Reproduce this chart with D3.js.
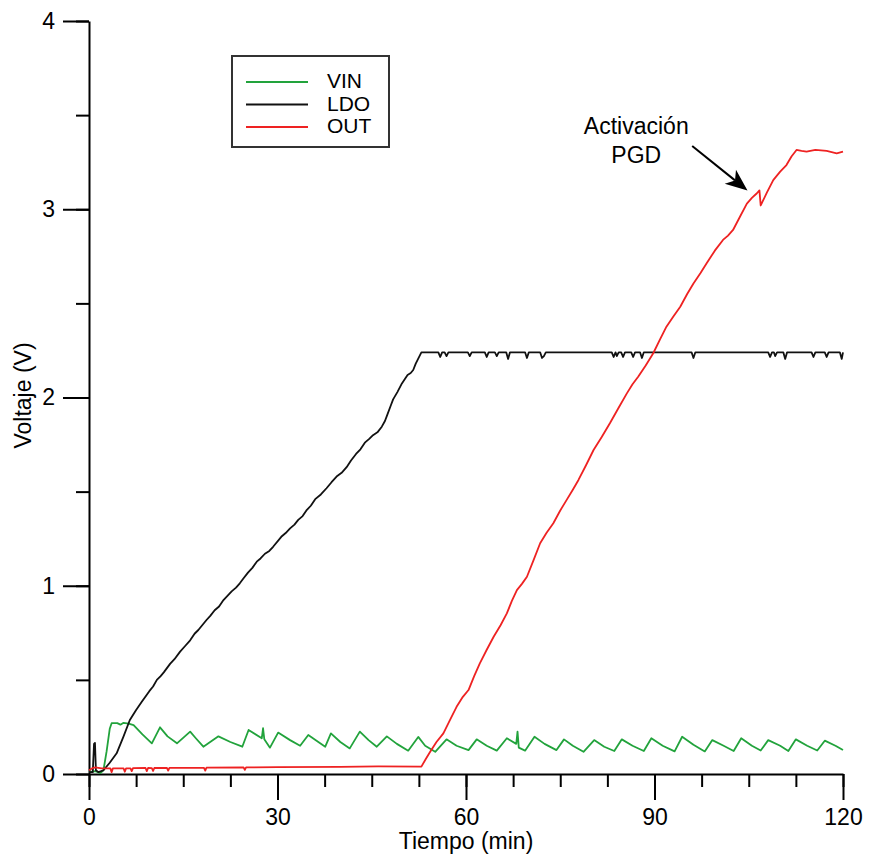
<!DOCTYPE html>
<html>
<head>
<meta charset="utf-8">
<script src="https://cdn.jsdelivr.net/npm/d3@7/dist/d3.min.js"></script>
<style>
  body { margin: 0; background: #fff; }
  text { font-family: "Liberation Sans", Arial, sans-serif; }
</style>
</head>
<body>
<script>
// tiempo (min) vs voltaje (V), three traces
var xTicks = [0, 30, 60, 90, 120];
var yTicks = [0, 1, 2, 3, 4];
var seriesNames = ["VIN", "LDO", "OUT"];
var seriesColors = ["#22a33c", "#111111", "#ee2222"];

var vin = [[0,0.01],[1,0.015],[1.8,0.005],[2.3,0.02],[2.8,0.12],[3.3,0.24],[3.6,0.27],[4.5,0.27],[5,0.262],[5.5,0.272],
  [6.3,0.268],[7.1,0.26],[8.5,0.21],[10,0.163],[11.3,0.248],[12.5,0.2],[14,0.163],[16.1,0.225],[17,0.19],[18.2,0.145],
  [20.6,0.2],[22.5,0.17],[24.4,0.145],[25.4,0.234],[27.5,0.19],[27.7,0.243],[27.9,0.185],[28.8,0.14],[30.1,0.22],[32,0.18],
  [33.6,0.15],[34.9,0.207],[36.5,0.17],[37.6,0.145],[38.5,0.216],[40,0.17],[41.5,0.136],[43.1,0.225],[44.5,0.18],[45.8,0.145],
  [47.4,0.2],[49,0.16],[50.8,0.124],[52.4,0.197],[53.5,0.15],[55.1,0.118],[56.9,0.184],[58.5,0.15],[60.4,0.127],[61.7,0.184],
  [63.3,0.15],[64.9,0.124],[66.5,0.19],[68,0.16],[68.2,0.225],[68.4,0.14],[69.4,0.124],[70.9,0.198],[72.5,0.16],[74.4,0.127],
  [75.6,0.184],[77,0.15],[78.7,0.118],[80.4,0.18],[82,0.145],[83.6,0.122],[84.8,0.184],[86.5,0.15],[88.3,0.122],[89.5,0.19],
  [91.3,0.15],[93.2,0.12],[94.4,0.198],[96.2,0.155],[98,0.12],[99.2,0.18],[101,0.15],[102.6,0.122],[103.8,0.19],[105.5,0.15],
  [106.9,0.125],[108.1,0.18],[110,0.15],[111.3,0.122],[112.5,0.184],[114.3,0.15],[115.9,0.125],[117.1,0.177],[118.8,0.15],[120,0.127]];

var ldo = [[0,0.01],[0.6,0.01],[0.8,0.16],[0.95,0.165],[1.1,0.02],[1.5,0.01],[2.3,0.02],[3.3,0.06],[4.4,0.11],[5.5,0.2],
  [6.5,0.287],[7.5,0.34],[8.4,0.384],[9.6,0.44],[10.2,0.465],[10.8,0.5],[11.4,0.52],[11.9,0.54],[12.9,0.585],[13.6,0.61],
  [14.5,0.65],[15.3,0.68],[16.1,0.71],[16.8,0.745],[17.4,0.765],[18.7,0.818],[19.3,0.84],[20,0.87],[20.7,0.89],[21.4,0.924],
  [22.7,0.97],[23.4,0.99],[24,1.013],[24.6,1.04],[25.3,1.07],[26,1.095],[26.7,1.128],[27.3,1.145],[28,1.17],[28.7,1.185],
  [29.3,1.207],[30.6,1.26],[31.3,1.28],[32,1.305],[32.7,1.325],[33.3,1.35],[34,1.37],[34.6,1.4],[35.3,1.425],[36,1.46],
  [36.9,1.485],[37.8,1.518],[38.6,1.55],[39.4,1.58],[40.2,1.6],[41,1.63],[41.7,1.665],[42.5,1.7],[43.2,1.725],[43.9,1.76],
  [44.6,1.78],[45.2,1.8],[45.9,1.815],[46.6,1.845],[47.1,1.875],[47.5,1.91],[48,1.955],[48.4,1.99],[49.1,2.03],[49.8,2.075],
  [50.3,2.1],[50.7,2.12],[51.2,2.13],[51.6,2.146],[52,2.18],[52.3,2.2],[52.9,2.24],
  [55.6,2.24],[55.9,2.215],[56.2,2.24],[56.6,2.24],[56.9,2.22],[57.2,2.24],[60.3,2.24],[60.6,2.22],[60.9,2.24],
  [63,2.24],[63.3,2.215],[63.6,2.24],[64.6,2.24],[64.9,2.22],[65.2,2.24],[66.4,2.24],[66.7,2.205],[67,2.24],
  [69.4,2.24],[69.7,2.21],[70,2.24],[71.8,2.24],[72.1,2.21],[72.4,2.22],[72.7,2.24],[83.2,2.24],[83.5,2.215],[83.8,2.24],
  [84,2.22],[84.3,2.24],[84.7,2.24],[85,2.215],[85.3,2.24],[86.3,2.24],[86.6,2.215],[86.9,2.24],[87.7,2.24],[88,2.21],
  [88.3,2.24],[95.9,2.24],[96.2,2.21],[96.5,2.24],[108.1,2.24],[108.4,2.215],[108.7,2.24],[109,2.24],[109.2,2.22],
  [109.5,2.24],[110.5,2.24],[110.8,2.205],[111.1,2.24],[115,2.24],[115.3,2.215],[115.6,2.24],[117.1,2.24],[117.4,2.215],
  [117.7,2.24],[119.5,2.24],[119.8,2.205],[120,2.24]];

var out = [[0,0.02],[0.5,0.03],[1,0.035],[2,0.03],[3.4,0.03],[3.6,0.01],[3.8,0.03],[5.5,0.03],[5.7,0.012],[5.9,0.03],
  [6.6,0.03],[6.8,0.015],[7,0.031],[9,0.032],[9.2,0.015],[9.4,0.032],[10,0.031],[10.2,0.016],[10.4,0.032],[12.4,0.033],
  [12.6,0.018],[12.8,0.033],[18.3,0.033],[18.5,0.018],[18.7,0.034],[24.6,0.035],[24.8,0.022],[25,0.035],[30,0.036],
  [40,0.038],[46,0.04],[52.9,0.039],[53.6,0.08],[54.3,0.118],[55.3,0.17],[56.4,0.216],[57.5,0.29],[58.5,0.357],
  [59.5,0.41],[60.4,0.446],[61.3,0.52],[62.2,0.588],[63.3,0.66],[64.4,0.729],[65.5,0.79],[66.5,0.853],[67.3,0.92],
  [68.1,0.977],[68.9,1.01],[69.7,1.048],[70.8,1.14],[71.8,1.226],[72.8,1.28],[73.9,1.332],[75,1.4],[76,1.455],[77,1.51],
  [77.9,1.562],[79.1,1.64],[80.3,1.721],[81.6,1.79],[82.9,1.863],[84.2,1.94],[85.6,2.022],[86.5,2.07],[87.4,2.11],
  [88.6,2.17],[89.8,2.235],[90.9,2.31],[91.9,2.376],[93,2.43],[94.1,2.482],[95.2,2.55],[96.2,2.606],[97.3,2.66],
  [98.3,2.713],[99.6,2.78],[100.9,2.837],[101.7,2.86],[102.5,2.89],[103.6,2.96],[104.7,3.03],[105.5,3.06],[106.3,3.085],
  [106.7,3.1],[106.9,3.02],[107.9,3.09],[108.9,3.155],[110,3.2],[111,3.235],[111.8,3.28],[112.6,3.315],[113.4,3.31],
  [114.2,3.306],[115.6,3.315],[117.4,3.31],[119,3.297],[120,3.306]];

var annotation = ["Activación", "PGD"];

var margin = {top: 21, bottom: 81, left: 89, right: 27},
    width = 870 - margin.left - margin.right,
    height = 855 - margin.top - margin.bottom;

var x = d3.scaleLinear().domain([0, 120]).range([0, width]);
var y = d3.scaleLinear().domain([0, 4]).range([height, 0]);

var svg = d3.select("body").append("svg")
    .attr("width", 870)
    .attr("height", 855)
    .append("g")
    .attr("transform", "translate(" + margin.left + "," + margin.top + ")");

// minor ticks
svg.append("g")
    .attr("class", "minor")
    .attr("transform", "translate(0," + height + ")")
    .call(d3.axisBottom(x).tickValues(d3.range(0, 121, 7.5)).tickSize(13).tickFormat(""));
svg.append("g")
    .attr("class", "minor")
    .call(d3.axisLeft(y).tickValues(d3.range(0, 4.01, 0.5)).tickSize(13).tickFormat(""));
svg.selectAll(".minor .domain").remove();

// major ticks + axis lines
svg.append("g")
    .attr("transform", "translate(0," + height + ")")
    .call(d3.axisBottom(x).tickValues(xTicks).tickSize(26).tickSizeOuter(0).tickPadding(9)
        .tickFormat(d3.format("d")));
svg.append("g")
    .call(d3.axisLeft(y).tickValues(yTicks).tickSize(26).tickSizeOuter(0).tickPadding(8)
        .tickFormat(d3.format("d")));

svg.selectAll(".tick line, .domain").attr("stroke", "#000").attr("stroke-width", 2);
svg.selectAll(".tick text").style("font-size", "23px").attr("fill", "#000")
    .style("font-family", "'Liberation Sans', Arial, sans-serif");

// axis titles
svg.append("text")
    .attr("x", width / 2)
    .attr("y", height + 75)
    .attr("text-anchor", "middle")
    .style("font-size", "23px")
    .text("Tiempo (min)");

svg.append("text")
    .attr("transform", "rotate(-90)")
    .attr("x", -(height / 2) + 2)
    .attr("y", -58)
    .attr("text-anchor", "middle")
    .style("font-size", "23px")
    .text("Voltaje (V)");

// traces
var line = d3.line()
    .x(function(d){ return x(d[0]); })
    .y(function(d){ return y(d[1]); });

var data = [vin, ldo, out];
svg.selectAll(".trace")
    .data(data)
    .enter().append("path")
    .attr("class", "trace")
    .attr("fill", "none")
    .attr("stroke", function(d, i){ return seriesColors[i]; })
    .attr("stroke-width", 1.8)
    .attr("stroke-linejoin", "round")
    .attr("d", line);

// legend
var legend = svg.append("g").attr("transform", "translate(143,35)");
legend.append("rect")
    .attr("width", 157)
    .attr("height", 91)
    .attr("fill", "#fff")
    .attr("stroke", "#333")
    .attr("stroke-width", 2);
seriesNames.forEach(function(name, i){
    legend.append("line")
        .attr("x1", 14).attr("x2", 76)
        .attr("y1", 26 + i * 22.5).attr("y2", 26 + i * 22.5)
        .attr("stroke", seriesColors[i])
        .attr("stroke-width", 2);
    legend.append("text")
        .attr("x", 95)
        .attr("y", 32 + i * 22.5)
        .style("font-size", "21px")
        .text(name);
});

// annotation arrow, placed in data units
var tail = [x(96.0), y(3.336)], tip = [x(104.8), y(3.10)];
var ang = Math.atan2(tip[1] - tail[1], tip[0] - tail[0]);
var hl = 22, hw = 9;
function pt(along, across) {
    return [tip[0] - along * Math.cos(ang) - across * Math.sin(ang),
            tip[1] - along * Math.sin(ang) + across * Math.cos(ang)];
}
var base = pt(hl - 6, 0);
svg.append("line")
    .attr("x1", tail[0]).attr("y1", tail[1])
    .attr("x2", base[0]).attr("y2", base[1])
    .attr("stroke", "#000").attr("stroke-width", 2);
svg.append("path")
    .attr("d", "M" + tip + "L" + pt(hl, hw) + "L" + base + "L" + pt(hl, -hw) + "Z")
    .attr("fill", "#000");

annotation.forEach(function(s, i){
    svg.append("text")
        .attr("x", x(87.1))
        .attr("y", y(3.5) + 19 + i * 28.5)
        .attr("text-anchor", "middle")
        .style("font-size", "23px")
        .text(s);
});
</script>
</body>
</html>
